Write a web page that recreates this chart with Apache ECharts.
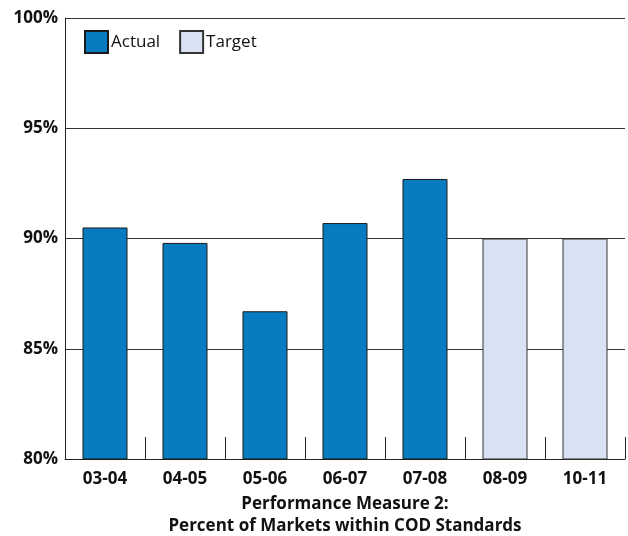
<!DOCTYPE html>
<html>
<head>
<meta charset="utf-8">
<script src="https://cdn.jsdelivr.net/npm/echarts@6/dist/echarts.min.js"></script>
<style>
  html, body { margin: 0; padding: 0; background: #fff; }
  #chart { width: 628px; height: 536px; }
</style>
</head>
<body>
<div id="chart"></div>
<script>
// Fiscal years shown on the category axis
const years = ['03-04', '04-05', '05-06', '06-07', '07-08', '08-09', '10-11'];
// Measured results (percent of markets within COD standards)
const actual = [90.5, 89.8, 86.7, 90.7, 92.7, null, null];
// Targets for the later years
const target = [null, null, null, null, null, 90, 90];
// Value axis range and step
const yMin = 80, yMax = 100, yStep = 5;

const font = '"Open Sans", "Noto Sans", sans-serif';
const chart = echarts.init(document.getElementById('chart'), null, { renderer: 'canvas' });

chart.setOption({
  animation: false,
  backgroundColor: '#fff',
  textStyle: { fontFamily: font },
  grid: { left: 65, right: 3, top: 18, bottom: 77, outerBoundsMode: 'none', containLabel: false },
  legend: {
    left: 79, top: 25, itemWidth: 23, itemHeight: 22, itemGap: 19, icon: 'rect',
    textStyle: { fontFamily: font, fontSize: 17, color: '#111', padding: [0, 0, 0, -2] },
    data: ['Actual', 'Target']
  },
  xAxis: {
    type: 'category',
    data: years,
    boundaryGap: true,
    axisLine: { lineStyle: { color: '#222', width: 1 } },
    axisTick: { show: true, inside: true, length: 22, lineStyle: { color: '#222' } },
    axisLabel: { fontFamily: font, fontWeight: 'bold', fontSize: 17, color: '#111', margin: 12 },
    name: 'Performance Measure 2:\nPercent of Markets within COD Standards',
    nameLocation: 'middle',
    nameGap: 30,
    nameTextStyle: { fontFamily: font, fontWeight: 'bold', fontSize: 17, color: '#111', lineHeight: 22 }
  },
  yAxis: {
    type: 'value',
    min: yMin, max: yMax, interval: yStep,
    axisLine: { show: true, lineStyle: { color: '#222' } },
    axisTick: { show: false },
    splitLine: { lineStyle: { color: '#333', width: 1 } },
    axisLabel: { fontFamily: font, fontWeight: 'bold', fontSize: 17, color: '#111', margin: 7, formatter: '{value}%' }
  },
  series: [
    {
      name: 'Actual', type: 'bar', data: actual, barWidth: 45, barGap: '-100%',
      itemStyle: { color: '#077BC0', borderColor: '#1a1a1a', borderWidth: 1 }
    },
    {
      name: 'Target', type: 'bar', data: target, barWidth: 45,
      itemStyle: { color: '#D9E2F2', borderColor: '#333', borderWidth: 1 }
    }
  ]
});
</script>
</body>
</html>
